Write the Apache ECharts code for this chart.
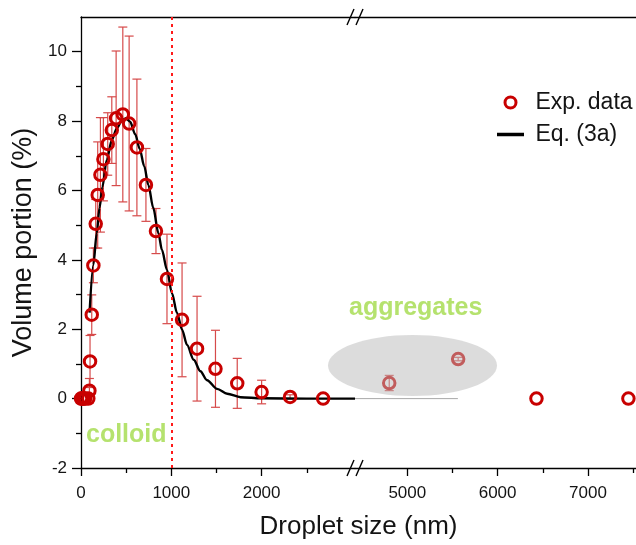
<!DOCTYPE html>
<html>
<head>
<meta charset="utf-8">
<script src="https://cdn.jsdelivr.net/npm/echarts@6/dist/echarts.min.js"></script>
<style>
html,body{margin:0;padding:0;background:#fff;}
#chart{width:636px;height:545px;}
</style>
</head>
<body>
<div id="chart"></div>
<script>
// ---- data ----
// colloid region (left axis segment, nm)
const expX = [0, 10, 20, 30, 45, 81, 93, 100, 119, 137, 163, 185, 215, 248, 296, 341, 389, 463, 533, 619, 719, 830, 952, 1119, 1285, 1489, 1730, 2000, 2315, 2681];
const expY = [0, 0, 0, 0, 0, 0, 0.23, 1.07, 2.42, 3.84, 5.04, 5.87, 6.45, 6.90, 7.34, 7.74, 8.08, 8.19, 7.93, 7.24, 6.16, 4.83, 3.45, 2.27, 1.44, 0.86, 0.44, 0.19, 0.05, 0.0];
const expErr = [0, 0, 0, 0, 0, 0, 0.35, 0.75, 0.57, 0.5, 0.7, 1.53, 1.65, 1.2, 0.9, 0.96, 1.94, 2.52, 2.52, 1.97, 1.05, 0.65, 1.29, 1.64, 1.51, 1.11, 0.72, 0.34, 0.06, 0];
// aggregate region (right axis segment, nm)
const aggX = [4800, 5563, 6430, 7448];
const aggY = [0.45, 1.14, 0, 0];
const aggErr = [0.22, 0.05, 0, 0];
// Eq. (3a) curve
const fitX = [95, 137, 174, 205, 237, 285, 341, 396, 452, 497, 544, 600, 650, 700, 746, 800, 857, 896, 952, 1007, 1063, 1119, 1174, 1248, 1322, 1396, 1507, 1619, 1767, 2000, 2500, 3034];
const fitY = [2.48, 3.86, 4.77, 5.5, 6.1, 6.88, 7.45, 7.79, 8.01, 8.08, 7.98, 7.62, 7.2, 6.7, 6.16, 5.5, 4.77, 4.29, 3.71, 3.04, 2.47, 1.99, 1.55, 1.12, 0.79, 0.53, 0.28, 0.14, 0.04, 0.01, 0, 0];
// thin grey continuation on the right segment
const tailX = [4421, 5560];
const tailY = [0, 0];
// axis ranges and ticks
const leftRange = [0, 3034];
const rightRange = [4421, 7532];
const yRange = [-2, 11];
const leftMajor = [0, 1000, 2000];
const leftMinor = [500, 1500, 2500];
const rightMajor = [5000, 6000, 7000];
const rightMinor = [5500, 6500, 7500];
const yMajor = [-2, 0, 2, 4, 6, 8, 10];
const yMinor = [-1, 1, 3, 5, 7, 9];
const boundaryX = 1000;

const FONT = "'Liberation Sans', Arial, Helvetica, sans-serif";
const RED = '#c80000';
const ERR = '#d64a4a';
const TXT = '#141414';

const zip = (xs, ys) => xs.map((x, i) => [x, ys[i]]);
const errData = (xs, ys, es) => xs.map((x, i) => [x, ys[i] - es[i], ys[i] + es[i], es[i]]);

function errRender(params, api) {
  if (api.value(3) <= 0) return null;
  const x = api.value(0);
  const lo = api.coord([x, api.value(1)]);
  const hi = api.coord([x, api.value(2)]);
  const w = 4.5;
  const st = { stroke: ERR, lineWidth: 1.2 };
  return {
    type: 'group',
    children: [
      { type: 'line', shape: { x1: hi[0], y1: hi[1], x2: lo[0], y2: lo[1] }, style: st },
      { type: 'line', shape: { x1: hi[0] - w, y1: hi[1], x2: hi[0] + w, y2: hi[1] }, style: st },
      { type: 'line', shape: { x1: lo[0] - w, y1: lo[1], x2: lo[0] + w, y2: lo[1] }, style: st }
    ]
  };
}

const axLine = { show: true, onZero: false, lineStyle: { color: '#000', width: 1.3 } };
const noLine = { show: false, onZero: false };
const lab = (vals, margin) => ({ show: true, customValues: vals, fontSize: 17, color: TXT, fontFamily: FONT,
  margin: margin, formatter: (v) => String(v) });

function xMajor(grid, range, vals) {
  return { type: 'value', gridIndex: grid, position: 'bottom', min: range[0], max: range[1],
    axisLine: axLine, axisTick: { show: true, customValues: vals, length: 8, lineStyle: { color: '#000', width: 1.3 } },
    axisLabel: lab(vals, 17), splitLine: { show: false } };
}
function xMinor(grid, range, vals) {
  return { type: 'value', gridIndex: grid, position: 'bottom', min: range[0], max: range[1],
    axisLine: noLine, axisTick: { show: true, customValues: vals, length: 5, lineStyle: { color: '#000', width: 1.3 } },
    axisLabel: { show: false }, splitLine: { show: false } };
}
function xTop(grid, range) {
  return { type: 'value', gridIndex: grid, position: 'top', min: range[0], max: range[1],
    axisLine: axLine, axisTick: { show: false }, axisLabel: { show: false }, splitLine: { show: false } };
}

const chart = echarts.init(document.getElementById('chart'), null, { renderer: 'canvas' });

const option = {
  backgroundColor: '#fff',
  animation: false,
  textStyle: { fontFamily: FONT },
  grid: [
    { left: 81, top: 17, width: 274, bottom: 77 },
    { left: 355, top: 17, right: 0, bottom: 77 },
    { left: 81, top: 17, right: 0, bottom: 77 }
  ],
  xAxis: [
    xMajor(0, leftRange, leftMajor),
    xMinor(0, leftRange, leftMinor),
    xTop(0, leftRange),
    xMajor(1, rightRange, rightMajor),
    xMinor(1, rightRange, rightMinor),
    xTop(1, rightRange),
    { type: 'value', gridIndex: 2, position: 'bottom', min: 0, max: 1,
      axisLine: { show: false, onZero: false }, axisTick: { show: false }, axisLabel: { show: false }, splitLine: { show: false },
      name: 'Droplet size (nm)', nameLocation: 'middle', nameGap: 46,
      nameTextStyle: { fontSize: 26, color: TXT, fontFamily: FONT } }
  ],
  yAxis: [
    { type: 'value', gridIndex: 0, position: 'left', min: yRange[0], max: yRange[1],
      axisLine: axLine, axisTick: { show: true, customValues: yMajor, length: 9, lineStyle: { color: '#000', width: 1.3 } },
      axisLabel: lab(yMajor, 14), splitLine: { show: false },
      name: 'Volume portion (%)', nameLocation: 'middle', nameGap: 44,
      nameTextStyle: { fontSize: 27, color: TXT, fontFamily: FONT } },
    { type: 'value', gridIndex: 0, position: 'left', min: yRange[0], max: yRange[1],
      axisLine: noLine, axisTick: { show: true, customValues: yMinor, length: 5, lineStyle: { color: '#000', width: 1.3 } },
      axisLabel: { show: false }, splitLine: { show: false } },
    { type: 'value', gridIndex: 1, min: yRange[0], max: yRange[1], show: false },
    { type: 'value', gridIndex: 2, min: 0, max: 1, show: false }
  ],
  legend: {
    orient: 'vertical', left: 492, top: 86, itemWidth: 27, itemHeight: 11, itemGap: 9,
    formatter: ' {name}',
    textStyle: { fontSize: 23, color: TXT, fontFamily: FONT },
    data: [
      { name: 'Exp. data', icon: 'circle', itemStyle: { color: 'transparent', borderColor: RED, borderWidth: 3 } },
      { name: 'Eq. (3a)', icon: 'path://M0,0L27,0L27,3.5L0,3.5Z', itemStyle: { color: '#000', borderWidth: 0 } }
    ]
  },
  series: [
    { name: 'Eq. (3a)', type: 'line', xAxisIndex: 0, yAxisIndex: 0, data: zip(fitX, fitY),
      symbol: 'none', smooth: 0.3, smoothMonotone: 'x', z: 3,
      lineStyle: { color: '#000', width: 2.4 }, itemStyle: { color: '#000' },
      markLine: { silent: true, symbol: ['none', 'none'], label: { show: false },
        lineStyle: { color: '#ff1a1a', width: 2, type: [3, 4] },
        data: [{ xAxis: boundaryX }] } },
    { name: 'errL', type: 'custom', xAxisIndex: 0, yAxisIndex: 0, data: errData(expX, expY, expErr),
      renderItem: errRender, z: 2, encode: { x: 0, y: [1, 2] } },
    { name: 'Exp. data', type: 'scatter', xAxisIndex: 0, yAxisIndex: 0, data: zip(expX, expY),
      symbol: 'circle', symbolSize: 11.5, z: 4,
      itemStyle: { color: 'transparent', borderColor: RED, borderWidth: 3, opacity: 1 } },
    { name: 'tail', type: 'line', xAxisIndex: 3, yAxisIndex: 2, data: zip(tailX, tailY),
      symbol: 'none', lineStyle: { color: '#a8a8a8', width: 1 }, z: 2 },
    { name: 'errR', type: 'custom', xAxisIndex: 3, yAxisIndex: 2, data: errData(aggX, aggY, aggErr),
      renderItem: errRender, z: 2, encode: { x: 0, y: [1, 2] } },
    { name: 'Exp. data', type: 'scatter', xAxisIndex: 3, yAxisIndex: 2, data: zip(aggX, aggY),
      symbol: 'circle', symbolSize: 11.5, z: 4,
      itemStyle: { color: 'transparent', borderColor: RED, borderWidth: 3, opacity: 1 } }
  ],
  graphic: [
    // grey ellipse marking the aggregates (drawn over the points)
    { type: 'ellipse', shape: { cx: 412.5, cy: 365.5, rx: 84.5, ry: 30.5 }, z: 100,
      style: { fill: 'rgba(185,185,185,0.5)' } },
    { type: 'text', x: 349, y: 308, z: 100,
      style: { text: 'aggregates', font: "bold 25px " + FONT, fill: '#b5e26e', verticalAlign: 'middle' } },
    { type: 'text', x: 86, y: 435, z: 100,
      style: { text: 'colloid', font: "bold 25px " + FONT, fill: '#b5e26e', verticalAlign: 'middle' } },
    // axis break marks
    { type: 'line', z: 100, shape: { x1: 347, y1: 25, x2: 354, y2: 9 }, style: { stroke: '#000', lineWidth: 1.4 } },
    { type: 'line', z: 100, shape: { x1: 356, y1: 25, x2: 363, y2: 9 }, style: { stroke: '#000', lineWidth: 1.4 } },
    { type: 'line', z: 100, shape: { x1: 347, y1: 476, x2: 354, y2: 460 }, style: { stroke: '#000', lineWidth: 1.4 } },
    { type: 'line', z: 100, shape: { x1: 356, y1: 476, x2: 363, y2: 460 }, style: { stroke: '#000', lineWidth: 1.4 } }
  ]
};
chart.setOption(option);
</script>
</body>
</html>
